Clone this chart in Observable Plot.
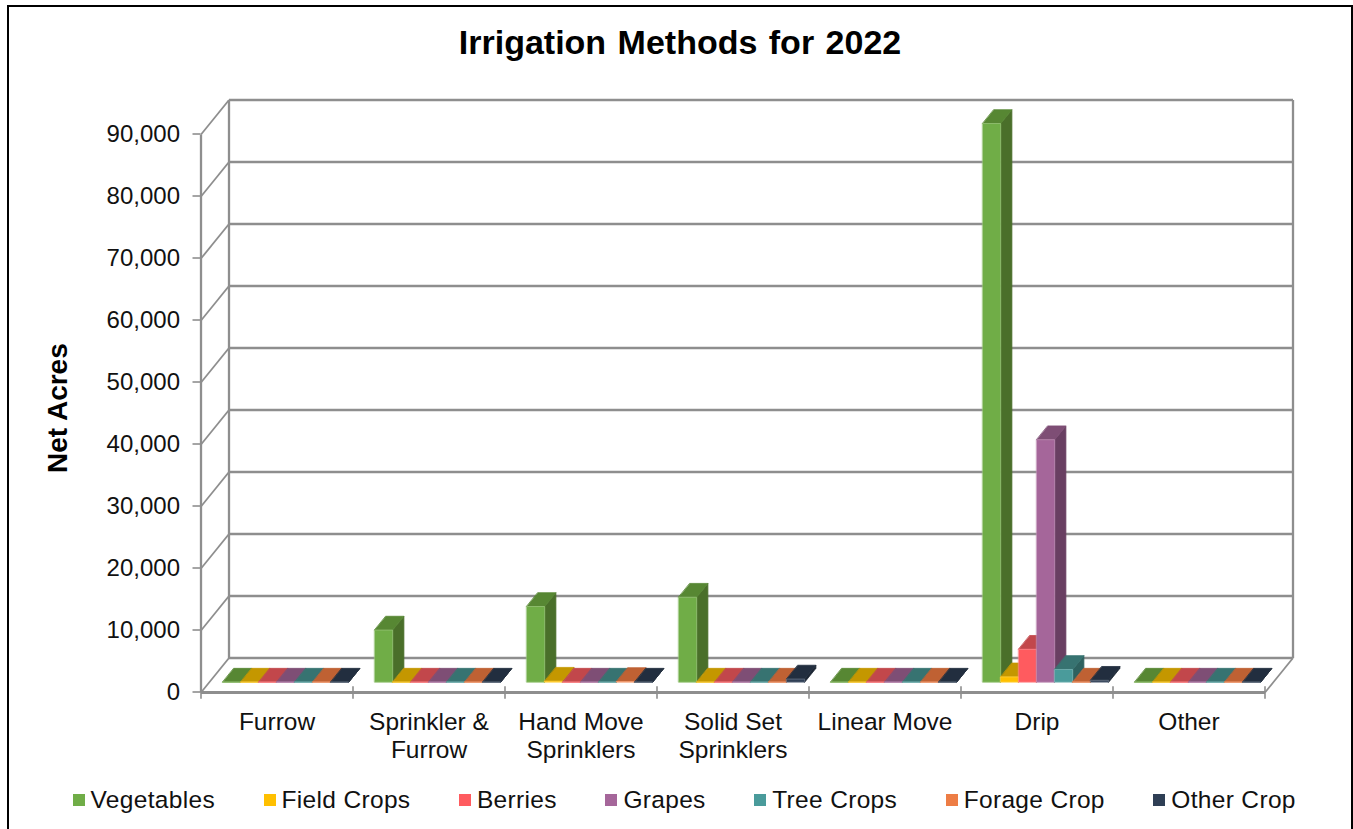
<!DOCTYPE html>
<html>
<head>
<meta charset="utf-8">
<script src="https://cdn.jsdelivr.net/npm/d3@7"></script>
<script src="https://cdn.jsdelivr.net/npm/@observablehq/plot@0.6"></script>
<style>
  html, body { margin: 0; padding: 0; background: #fff; height: 829px; overflow: hidden; }
  #frame { position: absolute; left: 7px; top: 5px; width: 1342px; height: 840px; border: 2.5px solid #000; box-sizing: content-box; font-family: "Liberation Sans", Arial, sans-serif; }
  #title { height: 70px; line-height: 70px; text-align: center; font-weight: bold; font-size: 34px; color: #000; word-spacing: 2px; }
  #chart svg { display: block; }
  #legend { position: absolute; left: 63.5px; top: 779px; display: flex; column-gap: 48.5px; font-size: 24.5px; line-height: 28px; color: #111; white-space: nowrap; letter-spacing: 0.33px; }
  #legend .item { display: flex; align-items: center; }
  #legend .sw { width: 12px; height: 12px; margin-right: 6px; display: inline-block; }
</style>
</head>
<body>
<div id="frame">
  <div id="title">Irrigation Methods for 2022</div>
  <div id="chart"></div>
  <div id="legend"></div>
</div>
<script>
// ---- data ----
const categories = ["Furrow", "Sprinkler &\nFurrow", "Hand Move\nSprinklers", "Solid Set\nSprinklers", "Linear Move", "Drip", "Other"];
const seriesNames = ["Vegetables", "Field Crops", "Berries", "Grapes", "Tree Crops", "Forage Crop", "Other Crop"];
const vegetables = [0, 8400, 12200, 13700, 0, 90100, 0];
const fieldCrops = [0, 0, 150, 0, 0, 850, 0];
const berries    = [0, 0, 0, 0, 0, 5300, 0];
const grapes     = [0, 0, 0, 0, 0, 39100, 0];
const treeCrops  = [0, 0, 0, 0, 0, 2050, 0];
const forageCrop = [0, 0, 100, 0, 0, 0, 0];
const otherCrop  = [0, 0, 0, 500, 0, 300, 0];
const seriesValues = [vegetables, fieldCrops, berries, grapes, treeCrops, forageCrop, otherCrop];
const yTicks = [0, 10000, 20000, 30000, 40000, 50000, 60000, 70000, 80000, 90000];

// ---- colours ----
const frontColors = ["#70AD47", "#FFC000", "#FF5B5F", "#A5669A", "#4A9B9B", "#ED7D45", "#2F3F55"];
const topColors   = ["#578733", "#C49700", "#C2474B", "#7E4E75", "#377371", "#BF6133", "#222E3F"];
const sideColors  = ["#4A6F2A", "#A67F00", "#A53C40", "#693F62", "#2E615F", "#A05028", "#1C2634"];
const gridColor = "#8E8E8E";

// ---- 3D projection, in scale units ----
const nCat = categories.length;
const depthX = 28 / 152;     // category units
const depthY = 5565;         // value units
const zFront = 0.3, zBack = 0.7;
const gap = 0.0875, barW = 18 / 152;

// ---- bar faces ----
const faces = [];
categories.forEach((c, i) => {
  seriesValues.forEach((vals, s) => {
    const v = vals[i];
    const x0 = i + gap + s * barW, x1 = x0 + barW;
    const P = (x, val, z) => ({x: x + z * depthX, y: val + z * depthY});
    const add = (kind, fill, stroke, pts) => pts.forEach(p => faces.push({...p, id: `${i}-${s}-${kind}`, fill, stroke}));
    add("side", sideColors[s], sideColors[s], [P(x1,0,zFront), P(x1,0,zBack), P(x1,v,zBack), P(x1,v,zFront)]);
    add("top", topColors[s], topColors[s], [P(x0,v,zFront), P(x1,v,zFront), P(x1,v,zBack), P(x0,v,zBack)]);
    add("front", frontColors[s], d3.interpolateRgb(frontColors[s], "#fff")(0.25), [P(x0,0,zFront), P(x1,0,zFront), P(x1,v,zFront), P(x0,v,zFront)]);
  });
});

// ---- walls and floor ----
const boundaries = d3.range(nCat + 1);
const diagonals = yTicks.map(v => ({x1: 0, y1: v, x2: depthX, y2: v + depthY}));
diagonals.push({x1: nCat, y1: 0, x2: nCat + depthX, y2: depthY});

const plot = Plot.plot({
  width: 1342,
  height: 692,
  marginLeft: 191.5,
  marginRight: 58.5,
  marginTop: 22.5,
  marginBottom: 77,
  style: {fontFamily: "'Liberation Sans', Arial, sans-serif", background: "transparent", color: "#000", overflow: "visible"},
  x: {type: "linear", domain: [0, nCat + depthX], axis: null},
  y: {type: "linear", domain: [0, 90000 + depthY], axis: null},
  marks: [
    // back wall grid
    Plot.link(yTicks, {x1: depthX, x2: nCat + depthX, y1: d => d + depthY, y2: d => d + depthY, stroke: gridColor, strokeWidth: 2.3}),
    // walls edges
    Plot.link([depthX, nCat + depthX], {x1: d => d, x2: d => d, y1: depthY, y2: 90000 + depthY, stroke: gridColor, strokeWidth: 2.3}),
    Plot.link([0], {x1: 0, x2: 0, y1: 0, y2: 90000, stroke: gridColor, strokeWidth: 2.3}),
    // left wall + floor diagonals
    Plot.link(diagonals, {x1: "x1", y1: "y1", x2: "x2", y2: "y2", stroke: gridColor, strokeWidth: 1.8}),
    // category axis
    Plot.link([0], {x1: 0, x2: nCat, y1: 0, y2: 0, stroke: gridColor, strokeWidth: 2.8}),
    Plot.link(boundaries, {x1: d => d, x2: d => d, y1: -1000, y2: 1000, stroke: gridColor, strokeWidth: 1.6}),
    // value axis
    Plot.axisY(yTicks, {anchor: "left", tickSize: 8, tickPadding: 13, tickFormat: d3.format(","), fontSize: 24, dy: -0.5, stroke: gridColor, strokeWidth: 1.6, fill: "#111", label: null}),
    // bars
    Plot.line(faces, {x: "x", y: "y", z: "id", fill: "fill", stroke: "stroke", strokeWidth: 0.8, curve: "linear-closed"}),
    // category labels
    Plot.text(categories, {x: (d, i) => i + 0.5, y: 0, text: d => d, dy: 18, lineAnchor: "top", lineHeight: 1.143, fontSize: 24.5, fill: "#111"}),
    // axis title
    Plot.text(["Net Acres"], {frameAnchor: "left", textAnchor: "middle", dx: -143, y: 45870, rotate: -90, text: d => d, fontSize: 28, fontWeight: "bold", fill: "#000"})
  ]
});
document.getElementById("chart").appendChild(plot);

// ---- legend ----
const legend = document.getElementById("legend");
seriesNames.forEach((name, i) => {
  const item = document.createElement("span");
  item.className = "item";
  const sw = document.createElement("span");
  sw.className = "sw";
  sw.style.background = frontColors[i];
  item.appendChild(sw);
  item.appendChild(document.createTextNode(name));
  legend.appendChild(item);
});
</script>
</body>
</html>
